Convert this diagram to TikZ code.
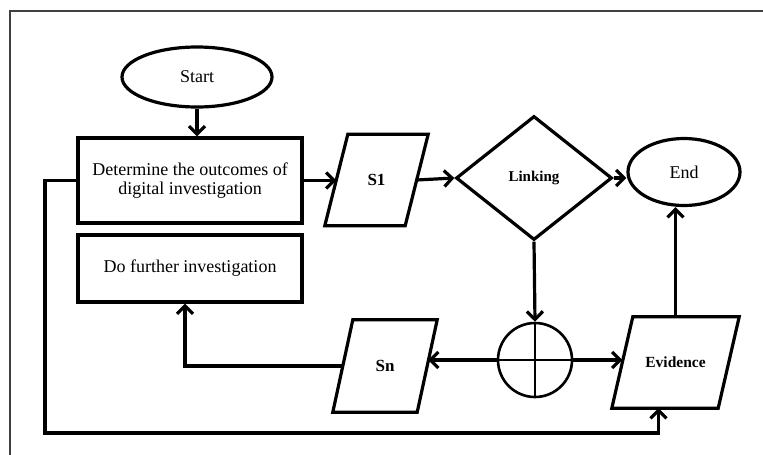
\documentclass[tikz,border=0pt]{standalone}
\usepackage{fontspec}
\setmainfont{Liberation Serif}
\usetikzlibrary{arrows.meta,shapes.geometric}
% slanted outline around a rectangular node: #1 node name, #2 half of the horizontal slant
\newcommand\slantoutline[2]{%
  \draw[outline] ([xshift=#2]#1.north west) -- ([xshift=#2]#1.north east)
    -- ([xshift=-#2]#1.south east) -- ([xshift=-#2]#1.south west) -- cycle;}
\begin{document}
\begin{tikzpicture}[x=1pt,y=-1pt,
  outline/.style={draw, line width=3.2pt, line join=miter},
  flow/.style={line width=3.2pt, -{Straight Barb[length=8pt,width=16pt]}},
  term/.style={outline, ellipse, inner sep=0pt, font=\fontsize{18}{20}\selectfont},
  procbox/.style={outline, rectangle, minimum width=224pt, inner sep=0pt,
    align=center, font=\fontsize{18}{19.5}\selectfont},
  iobox/.style={rectangle, inner sep=0pt, font=\fontsize{17}{19}\selectfont\bfseries},
]
\useasboundingbox (0,0) rectangle (763,455);
% page frame
\draw[black!75, line width=1.2pt] (10,455) -- (10,11) -- (763,11);

% nodes
\node[term, minimum width=150pt, minimum height=60pt] (start) at (197,77) {Start};
\node[procbox, minimum height=85pt] (box1) at (190,180.5)
  {Determine the outcomes of\\digital investigation};
\node[procbox, minimum height=67pt] (box2) at (190,268.5) {Do further investigation};
\node[iobox, minimum width=80pt, minimum height=91pt] (s1) at (376.5,180) {S1};
\slantoutline{s1}{11.5pt}
\node[outline, diamond, minimum width=156pt, minimum height=124pt, inner sep=0pt,
  font=\fontsize{15}{17}\selectfont\bfseries] (link) at (534,178) {Linking};
\node[term, minimum width=112pt, minimum height=67pt] (end) at (684,172) {End};
\node[draw, circle, line width=2.6pt, minimum size=74pt, inner sep=0pt] (join) at (535,360) {};
\draw[line width=2.6pt] (join.north) -- (join.south) (join.west) -- (join.east);
\node[iobox, minimum width=84pt, minimum height=92pt] (sn) at (385,366) {Sn};
\slantoutline{sn}{10pt}
\node[iobox, minimum width=106pt, minimum height=91pt,
  font=\fontsize{15.5}{17}\selectfont\bfseries] (ev) at (675.5,362.5) {Evidence};
\slantoutline{ev}{10.5pt}
\coordinate (lp) at (45,433);

% connectors
\draw[flow] (start.south) -- (start.south |- box1.north);
\draw[flow] (box1.east) -- (box1.east -| s1.west);
\draw[flow] (s1.east) -- (link.west);
\draw[flow] (link.east) -- (link.east -| end.west);
\draw[flow] (link.south) -- (join.north);
\draw[flow] (join.west) -- ([xshift=1pt]join.west -| sn.east);
\draw[flow] (join.east) -- (join.east -| ev.west);
\draw[flow] (ev.north) -- (ev.north |- end.south);
\draw[flow] (sn.west) -| ([xshift=-5pt]box2.south);
\draw[flow] (box1.west) -| (lp) -| ([xshift=-17pt]ev.south);
\end{tikzpicture}
\end{document}
